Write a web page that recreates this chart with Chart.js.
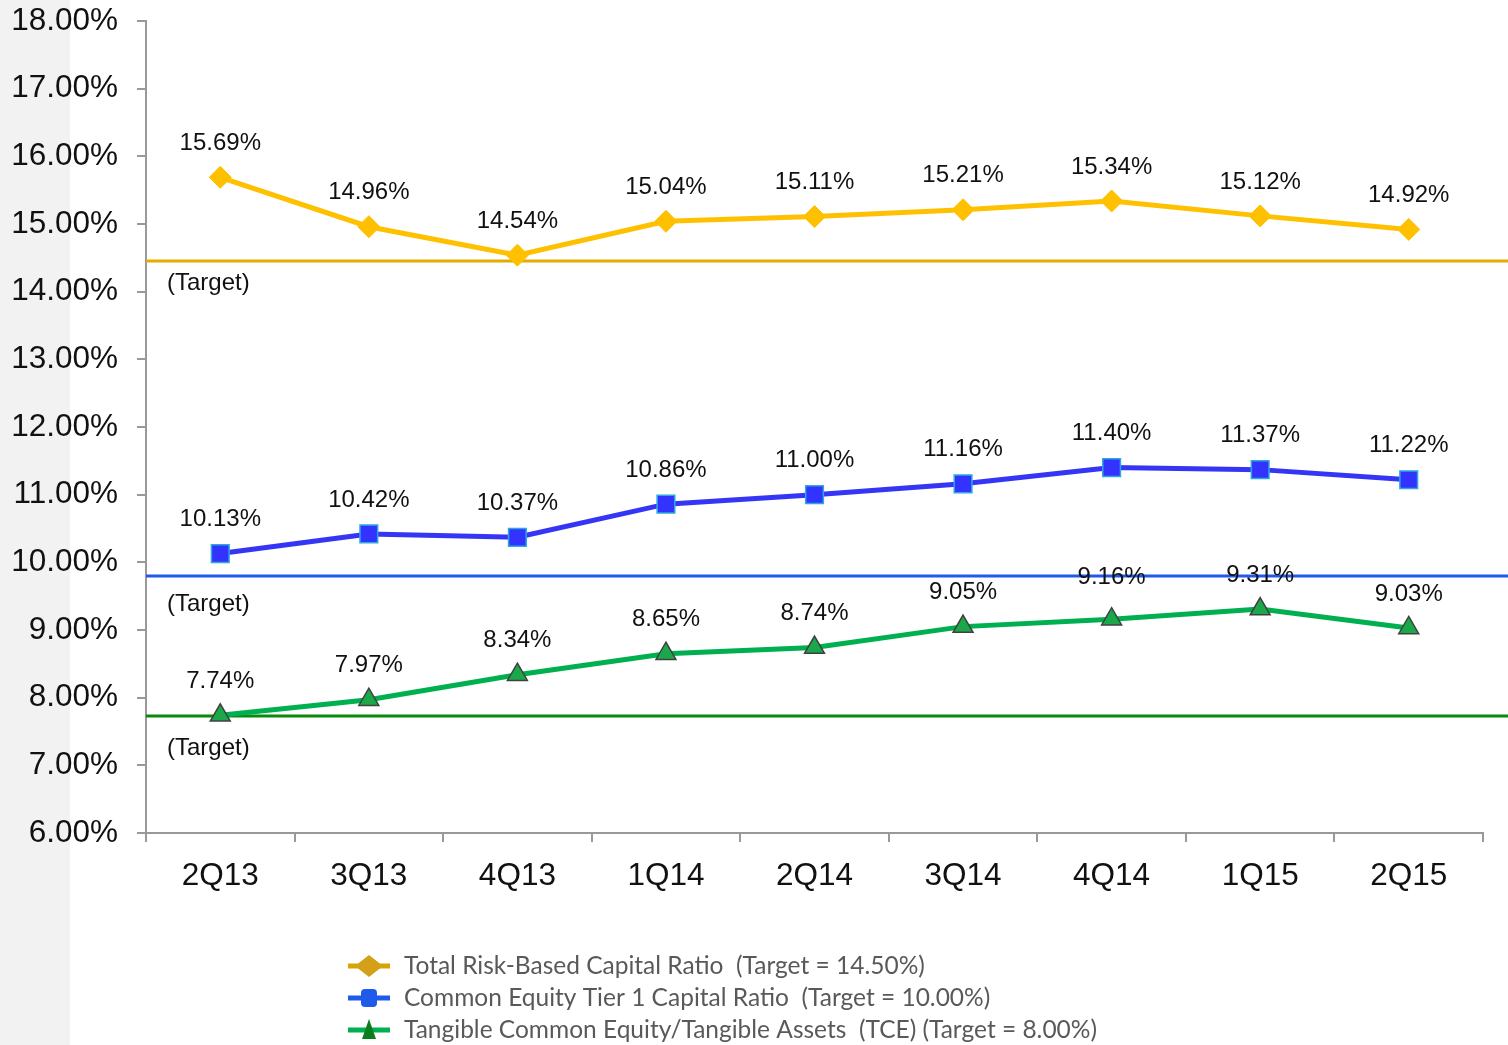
<!DOCTYPE html>
<html><head><meta charset="utf-8">
<script src="https://cdn.jsdelivr.net/npm/chart.js@4.4.1/dist/chart.umd.min.js"></script>
<style>
html,body{margin:0;padding:0;background:#fff;}
#wrap{position:relative;width:1508px;height:1045px;background:linear-gradient(to right,#F2F2F2 0,#F2F2F2 70px,#fff 70px);}
canvas{display:block;}
</style></head><body>
<div id="wrap"><canvas id="c" width="1508" height="1045"></canvas></div>
<script>
const categories = ['2Q13','3Q13','4Q13','1Q14','2Q14','3Q14','4Q14','1Q15','2Q15'];
const totalRiskBased = [15.69,14.96,14.54,15.04,15.11,15.21,15.34,15.12,14.92];
const commonEquityTier1 = [10.13,10.42,10.37,10.86,11.00,11.16,11.40,11.37,11.22];
const tangibleCommonEquity = [7.74,7.97,8.34,8.65,8.74,9.05,9.16,9.31,9.03];
const targetLevels = [14.46, 9.80, 7.73];
const targetColors = ['#E5AC00','#1F5BEB','#0A8A0A'];
const legendLabels = [
  'Total Risk-Based Capital Ratio  (Target = 14.50%)',
  'Common Equity Tier 1 Capital Ratio  (Target = 10.00%)',
  'Tangible Common Equity/Tangible Assets  (TCE) (Target = 8.00%)'
];
const yMin = 6, yMax = 18, yStep = 1;

const targetPlugin = {
  id:'targets',
  beforeDatasetsDraw(chart){
    const {ctx, chartArea, scales:{y}} = chart;
    const labelOff = [22, 28, 32];
    targetLevels.forEach((v,i)=>{
      const py = Math.round(y.getPixelForValue(v));
      ctx.save();
      ctx.strokeStyle = targetColors[i];
      ctx.lineWidth = 3;
      ctx.beginPath();
      ctx.moveTo(chartArea.left, py);
      ctx.lineTo(chart.width, py);
      ctx.stroke();
      ctx.fillStyle = '#111';
      ctx.font = '24px "Liberation Sans", Arial, sans-serif';
      ctx.textAlign = 'left';
      ctx.textBaseline = 'middle';
      ctx.fillText('(Target)', chartArea.left + 21, py + labelOff[i]);
      ctx.restore();
    });
  }
};

const labelPlugin = {
  id:'valueLabels',
  afterDatasetsDraw(chart){
    const {ctx} = chart;
    ctx.save();
    ctx.fillStyle = '#111';
    ctx.font = '24px "Liberation Sans", Arial, sans-serif';
    ctx.textAlign = 'center';
    ctx.textBaseline = 'middle';
    chart.data.datasets.forEach((ds,di)=>{
      const meta = chart.getDatasetMeta(di);
      meta.data.forEach((pt,i)=>{
        let off = 34;
        if (di===2 && i===6) off = 42;
        ctx.fillText(ds.data[i].toFixed(2)+'%', pt.x, pt.y - off);
      });
    });
    ctx.restore();
  }
};

const legendPlugin = {
  id:'customLegend',
  afterDraw(chart){
    const {ctx} = chart;
    const lineCols = ['#D9A400','#1F5BEB','#00B050'];
    const x0 = 348, x1 = 390, cx = 369, tx = 404;
    const rows = [966, 998, 1030];
    rows.forEach((ry,i)=>{
      ctx.save();
      ctx.strokeStyle = lineCols[i];
      ctx.lineWidth = 5;
      ctx.beginPath(); ctx.moveTo(x0, ry); ctx.lineTo(x1, ry); ctx.stroke();
      if (i===0){
        ctx.fillStyle = '#D4A017';
        ctx.beginPath(); ctx.moveTo(cx, ry-11); ctx.lineTo(cx+14, ry); ctx.lineTo(cx, ry+11); ctx.lineTo(cx-14, ry); ctx.closePath(); ctx.fill();
      } else if (i===1){
        ctx.fillStyle = '#1F5BEB';
        ctx.beginPath(); ctx.roundRect(cx-8, ry-9, 16, 18, 4); ctx.fill();
      } else {
        ctx.fillStyle = '#0A7D1E';
        ctx.beginPath(); ctx.moveTo(cx, ry-11); ctx.lineTo(cx+7, ry+9); ctx.lineTo(cx-7, ry+9); ctx.closePath(); ctx.fill();
      }
      ctx.fillStyle = '#595959';
      ctx.font = '24.5px Lato, "Open Sans", sans-serif';
      ctx.textAlign = 'left';
      ctx.textBaseline = 'middle';
      ctx.fillText(legendLabels[i], tx, ry);
      ctx.restore();
    });
  }
};

new Chart(document.getElementById('c'), {
  type:'line',
  data:{
    labels: categories,
    datasets:[
      {label:legendLabels[0], data: totalRiskBased, borderColor:'#FFC000', borderWidth:5,
       pointStyle:'rectRot', pointRadius:11, pointBackgroundColor:'#FFC000', pointBorderColor:'#FFC000', pointBorderWidth:1, tension:0},
      {label:legendLabels[1], data: commonEquityTier1, borderColor:'#3535F5', borderWidth:5,
       pointStyle:'rect', pointRadius:12.5, pointBackgroundColor:'#3333FF', pointBorderColor:'#2FA8E0', pointBorderWidth:1.5, tension:0},
      {label:legendLabels[2], data: tangibleCommonEquity, borderColor:'#00B050', borderWidth:5,
       pointStyle:'triangle', pointRadius:11.5, pointBackgroundColor:'#1BA84A', pointBorderColor:'#404040', pointBorderWidth:1.5, tension:0}
    ]
  },
  options:{
    responsive:false,
    animation:false,
    devicePixelRatio:1,
    layout:{padding:{left:0, right:25, top:21, bottom:0}},
    plugins:{legend:{display:false}, tooltip:{enabled:false}},
    scales:{
      x:{
        offset:true,
        grid:{display:true, drawOnChartArea:false, offset:true, color:'#999', lineWidth:2, tickLength:9, tickColor:'#999'},
        border:{display:true, color:'#999', width:2},
        ticks:{color:'#111', font:{size:31.5, family:'"Liberation Sans", Arial, sans-serif'}, padding:15, maxRotation:0},
        afterFit(s){ s.height = 212; s.paddingLeft = 0; s.paddingRight = 0; }
      },
      y:{
        min:yMin, max:yMax,
        grid:{display:true, drawOnChartArea:false, color:'#999', lineWidth:2, tickLength:9, tickColor:'#999'},
        border:{display:true, color:'#999', width:2},
        ticks:{stepSize:yStep, color:'#111', font:{size:31.5, family:'"Liberation Sans", Arial, sans-serif'}, padding:19,
          callback:v=>v.toFixed(2)+'%'},
        afterFit(s){ s.width = 146; s.paddingTop = 0; s.paddingBottom = 0; }
      }
    }
  },
  plugins:[targetPlugin, labelPlugin, legendPlugin]
});
</script>
</body></html>
